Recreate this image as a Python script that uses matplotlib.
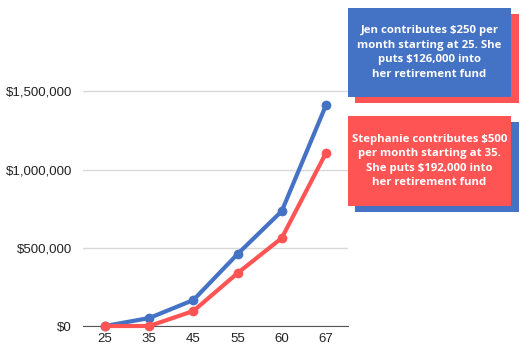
import matplotlib.pyplot as plt
from matplotlib.patches import Rectangle
from matplotlib.ticker import FuncFormatter

ages = ['25', '35', '45', '55', '60', '67']
jen = [0, 51000, 166000, 460000, 734000, 1410000]
stephanie = [0, 0, 96000, 338000, 562000, 1105000]

BLUE = '#4472C4'
RED = '#FF5454'

jen_note = 'Jen contributes $250 per\nmonth starting at 25. She\nputs $126,000 into\nher retirement fund'
steph_note = 'Stephanie contributes $500\nper month starting at 35.\nShe puts $192,000 into\nher retirement fund'

W, H = 529, 356
fig = plt.figure(figsize=(W / 100, H / 100), dpi=100)
ax = fig.add_axes([83 / W, 1 - 326 / H, (348 - 83) / W, (326 - 60) / H])

x = range(len(ages))
ax.plot(x, jen, color=BLUE, lw=3, marker='o', ms=6, zorder=3, clip_on=False)
ax.plot(x, stephanie, color=RED, lw=3, marker='o', ms=6, zorder=4, clip_on=False)

ax.set_xlim(-0.5, 5.5)
ax.set_ylim(0, 1700000)
ax.set_yticks([0, 500000, 1000000, 1500000])
ax.yaxis.set_major_formatter(FuncFormatter(lambda v, p: '${:,.0f}'.format(v)))
ax.set_xticks(list(x))
ax.set_xticklabels(ages)
ax.grid(axis='y', color='#d9d9d9', lw=1)
ax.set_axisbelow(True)
for s in ['top', 'right', 'left']:
    ax.spines[s].set_visible(False)
ax.spines['bottom'].set_color('#555555')
ax.tick_params(length=0, labelsize=9.5, colors='#222222', pad=5)
ax.tick_params(axis='y', pad=8)
for lab in ax.get_xticklabels() + ax.get_yticklabels():
    lab.set_family('Liberation Sans')


def note(x0, y0, x1, y1, face, shadow, text):
    # pixel box coords from top-left
    fig.patches.append(Rectangle((x0 / W + 7 / W, 1 - (y1 + 6) / H), (x1 - x0 + 1) / W, (y1 - y0) / H,
                                 transform=fig.transFigure, facecolor=shadow, edgecolor='none', zorder=1))
    fig.patches.append(Rectangle((x0 / W, 1 - y1 / H), (x1 - x0) / W, (y1 - y0) / H,
                                 transform=fig.transFigure, facecolor=face, edgecolor='none', zorder=2))
    fig.text((x0 + x1) / 2 / W, 1 - (y0 + y1) / 2 / H, text, ha='center', va='center', color='white',
             fontsize=8.2, fontweight='bold', family='Open Sans', linespacing=1.45, zorder=3)


note(348, 8, 511, 97, BLUE, RED, jen_note)
note(348, 116, 511, 206, RED, BLUE, steph_note)

fig.savefig('out.png', dpi=100)
